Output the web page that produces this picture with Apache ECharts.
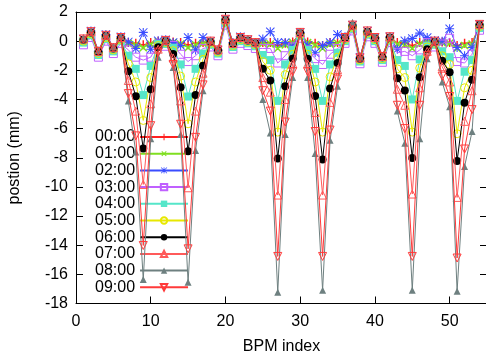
<!DOCTYPE html>
<html>
<head>
<meta charset="utf-8">
<script src="https://cdn.jsdelivr.net/npm/echarts@6/dist/echarts.min.js"></script>
<style>
html,body{margin:0;padding:0;background:#fff;}
#chart{width:486px;height:359px;}
</style>
</head>
<body>
<div id="chart"></div>
<script>
// BPM indices
var bpm = [1,2,3,4,5,6,7,8,9,10,11,12,13,14,15,16,17,18,19,20,21,22,23,24,25,26,27,28,29,30,31,32,33,34,35,36,37,38,39,40,41,42,43,44,45,46,47,48,49,50,51,52,53,54];

var seriesNames = ["00:00","01:00","02:00","03:00","04:00","05:00","06:00","07:00","08:00","09:00"];

var pos0000 = [0.1,0.6,-0.75,0.35,-0.5,0.2, -0.1,-0.15,-0.25,-0.1,0.0, 0.0, -0.05,-0.1,-0.25,-0.15,-0.1, -0.05,-0.65,1.45,-0.2,0.2,0.05,-0.15, -0.1,-0.1,-0.3,-0.15,-0.05, 0.55, -0.05,-0.15,-0.3,-0.1,-0.1, 0.2,1.05,-1.2,0.65,0.2,-1.1,0.25, -0.1,-0.15,-0.3,-0.1,0.0, -0.05, -0.05,-0.1,-0.3,-0.15,-0.1, 1.1];
var pos0100 = [0.05,0.55,-0.8,0.3,-0.55,0.15, -0.15,-0.25,-0.45,-0.2,-0.05, -0.05, -0.1,-0.2,-0.45,-0.25,-0.15, -0.1,-0.7,1.4,-0.25,0.15,0.0,-0.2, -0.15,-0.2,-0.5,-0.25,-0.1, 0.5, -0.1,-0.25,-0.5,-0.2,-0.15, 0.15,1.0,-1.25,0.6,0.15,-1.15,0.2, -0.2,-0.25,-0.5,-0.2,-0.05, -0.1, -0.1,-0.15,-0.5,-0.3,-0.2, 1.05];
var pos0200 = [0.15,0.7,-0.7,0.45,-0.45,0.3, -0.05,-0.5,0.6,-0.55,0.02, 0.1, -0.1,-0.3,0.25,-0.6,0.25, 0.0,-0.6,1.5,-0.1,0.3,0.1,-0.1, 0.15,0.65,-0.1,-0.1,-0.35, 0.6, -0.3,-0.8,-0.3,-0.1,0.45, 0.3,1.1,-1.1,0.7,0.25,-1.05,0.3, -0.55,0.02,0.18,0.55,0.25, 0.05, 0.0,0.85,-0.44,-1.0,-0.44, 1.15];
var pos0300 = [-0.25,0.25,-1.1,0.0,-0.85,-0.15, -0.6,-1.1,-1.3,-1.1,-0.2, -0.35, -0.3,-0.9,-1.4,-1.0,-0.5, -0.4,-1.0,1.1,-0.55,-0.15,-0.3,-0.5, -0.5,-0.5,-1.5,-1.0,-0.4, 0.2, -0.6,-1.2,-1.6,-0.9,-0.5, -0.15,0.7,-1.55,0.3,-0.15,-1.45,-0.1, -0.8,-0.7,-1.0,-0.6,-0.1, -0.4, -0.2,0.2,-1.4,-1.5,-0.9, 0.75];
var pos0400 = [-0.1,0.4,-0.95,0.15,-0.7,0.0, -1.0,-1.9,-3.7,-1.7,-0.2, -0.2, -0.45,-1.6,-3.8,-1.9,-0.85, -0.25,-0.85,1.25,-0.4,0.0,-0.15,-0.35, -0.95,-1.3,-4.1,-1.6,-0.6, 0.35, -0.6,-1.9,-4.1,-1.6,-0.8, 0.0,0.85,-1.4,0.45,0.0,-1.3,0.05, -1.3,-1.7,-4.0,-1.25,-0.3, -0.25, -0.7,-1.1,-4.1,-2.1,-1.3, 0.9];
var pos0500 = [0.0,0.5,-0.85,0.25,-0.6,0.1, -1.55,-2.8,-5.44,-2.5,-0.3, -0.1, -0.65,-2.4,-5.67,-2.8,-1.25, -0.15,-0.75,1.35,-0.3,0.1,-0.05,-0.25, -1.4,-2.0,-6.24,-2.3,-0.9, 0.45, -0.9,-2.8,-6.24,-2.45,-1.1, 0.1,0.95,-1.3,0.55,0.1,-1.2,0.15, -1.9,-2.5,-6.24,-1.85,-0.4, -0.15, -1.0,-1.6,-6.35,-3.2,-2.0, 1.0];
var pos0600 = [0.1,0.6,-0.75,0.35,-0.5,0.2, -2.07,-3.78,-7.37,-3.3,-0.42, 0.0, -0.89,-3.17,-7.56,-3.69,-1.69, -0.05,-0.65,1.45,-0.2,0.2,0.05,-0.15, -1.9,-2.7,-8.05,-3.1,-1.19, 0.55, -1.2,-3.77,-8.12,-3.25,-1.5, 0.2,1.05,-1.2,0.65,0.2,-1.1,0.25, -2.55,-3.39,-8.01,-2.48,-0.55, -0.05, -1.34,-2.14,-8.22,-4.23,-2.64, 1.1];
var pos0700 = [0.15,0.65,-0.7,0.4,-0.45,0.25, -2.7,-4.8,-9.83,-4.3,-0.55, 0.05, -1.15,-4.1,-10.06,-4.8,-2.2, 0.0,-0.6,1.5,-0.15,0.25,0.1,-0.1, -2.5,-3.5,-10.56,-4.0,-1.55, 0.6, -1.55,-4.9,-10.56,-4.2,-1.95, 0.25,1.1,-1.15,0.7,0.25,-1.05,0.3, -3.3,-4.4,-10.49,-3.2,-0.7, 0.0, -1.75,-2.8,-10.72,-5.5,-3.4, 1.15];
var pos0800 = [0.2,0.7,-0.65,0.45,-0.4,0.3, -4.1,-7.6,-16.36,-6.7,-1.1, 0.1, -1.8,-6.4,-16.55,-7.5,-3.4, 0.05,-0.55,1.55,-0.1,0.3,0.15,-0.05, -4.0,-6.3,-17.23,-6.4,-2.5, 0.65, -2.5,-7.7,-17.09,-6.8,-3.1, 0.3,1.3,-1.1,0.75,0.3,-1.0,0.35, -4.8,-7.0,-17.09,-6.7,-1.2, 0.05, -2.8,-4.5,-17.16,-8.6,-6.2, 1.2];
var pos0900 = [0.15,0.65,-0.7,0.4,-0.45,0.25, -3.6,-6.5,-14.02,-5.8,-0.75, 0.05, -1.6,-5.7,-14.25,-6.6,-3.0, 0.0,-0.6,1.5,-0.15,0.25,0.1,-0.1, -3.4,-4.8,-14.77,-5.55,-2.1, 0.6, -2.1,-6.2,-14.77,-6.1,-2.6, 0.25,1.1,-1.15,0.7,0.25,-1.05,0.3, -4.4,-6.0,-14.77,-4.4,-1.0, 0.0, -2.4,-3.8,-14.88,-7.4,-4.7, 1.15];

var xTicks = [0,10,20,30,40,50];
var yTicks = [2,0,-2,-4,-6,-8,-10,-12,-14,-16,-18];

var allValues = [pos0000,pos0100,pos0200,pos0300,pos0400,pos0500,pos0600,pos0700,pos0800,pos0900];

var PLUS = 'path://M4.2,0H5.8V4.2H10V5.8H5.8V10H4.2V5.8H0V4.2H4.2Z';
var STAR = 'path://M4.4,0H5.6V4.4H10V5.6H5.6V10H4.4V5.6H0V4.4H4.4Z M0.8,0L10,9.2L9.2,10L0,0.8Z M9.2,0L10,0.8L0.8,10L0,9.2Z';

var styles = [
  {c:'#ff2020', sym:PLUS, fill:true, rot:0, size:9},
  {c:'#7fdf20', sym:PLUS, fill:true, rot:45, size:10},
  {c:'#3a4dff', sym:STAR, fill:true, rot:0, size:9},
  {c:'#c060ff', sym:'rect', fill:false, rot:0, size:8},
  {c:'#55e6c9', sym:'rect', fill:true, rot:0, size:8},
  {c:'#e8e800', sym:'circle', fill:false, rot:0, size:8},
  {c:'#000000', sym:'circle', fill:true, rot:0, size:8},
  {c:'#ff5a5a', sym:'triangle', fill:false, rot:0, size:8},
  {c:'#6e8080', sym:'triangle', fill:true, rot:0, size:7},
  {c:'#ff3a3a', sym:'triangle', fill:false, rot:180, size:8}
];

var FONT = "'Liberation Sans', Arial, sans-serif";

var series = seriesNames.map(function(name, i){
  var st = styles[i];
  var vals = allValues[i];
  return {
    name: name,
    type: 'line',
    data: bpm.map(function(x, k){ return [x, vals[k]]; }),
    symbol: st.sym,
    symbolRotate: st.rot,
    symbolSize: st.size,
    showAllSymbol: true,
    lineStyle: {color: st.c, width: 1},
    itemStyle: st.fill ? {color: st.c, borderWidth: 0} : {color: 'rgba(255,255,255,0)', borderColor: st.c, borderWidth: 1},
    emphasis: {disabled: true},
    animation: false,
    z: 2 + i
  };
});

var chart = echarts.init(document.getElementById('chart'), null, {renderer: 'canvas'});
chart.setOption({
  backgroundColor: '#ffffff',
  animation: false,
  textStyle: {fontFamily: FONT},
  grid: {left: 76, width: 411, top: 12, height: 291.5, containLabel: false, outerBoundsMode: 'none'},
  xAxis: [{
    type: 'value', min: 0, max: 55, interval: 10,
    name: 'BPM index', nameLocation: 'middle', nameGap: 35,
    nameTextStyle: {fontSize: 16, color: '#000', fontFamily: FONT},
    axisLine: {show: true, onZero: false, lineStyle: {color: '#000', width: 1}},
    axisTick: {show: true, inside: true, length: 7, lineStyle: {color: '#000', width: 1}},
    axisLabel: {fontSize: 16, color: '#000', margin: 10, fontFamily: FONT,
      formatter: function(v){ return xTicks.indexOf(v) >= 0 ? String(v) : ''; }},
    splitLine: {show: false}
  },{
    type: 'value', position: 'top', min: 0, max: 55, interval: 10,
    axisLine: {show: true, onZero: false, lineStyle: {color: '#000', width: 1}},
    axisTick: {show: true, inside: true, length: 7, lineStyle: {color: '#000', width: 1}},
    axisLabel: {show: false}, splitLine: {show: false}
  }],
  yAxis: [{
    type: 'value', min: -18, max: 2, interval: 2,
    name: 'postion (mm)', nameLocation: 'middle', nameGap: 53,
    nameTextStyle: {fontSize: 16, color: '#000', fontFamily: FONT},
    axisLine: {show: true, onZero: false, lineStyle: {color: '#000', width: 1}},
    axisTick: {show: true, inside: true, length: 7, lineStyle: {color: '#000', width: 1}},
    axisLabel: {fontSize: 16, color: '#000', margin: 8, fontFamily: FONT,
      formatter: function(v){ return yTicks.indexOf(v) >= 0 ? String(v) : ''; }},
    splitLine: {show: false}
  },{
    type: 'value', position: 'right', min: -18, max: 2, interval: 2,
    axisLine: {show: true, onZero: false, lineStyle: {color: '#000', width: 1}},
    axisTick: {show: true, inside: true, length: 7, lineStyle: {color: '#000', width: 1}},
    axisLabel: {show: false}, splitLine: {show: false}
  }],
  legend: {
    show: true, orient: 'vertical', align: 'right',
    left: 95, top: 129, padding: 0,
    itemWidth: 48, itemHeight: 8, itemGap: 0.7,
    textStyle: {fontSize: 16, color: '#000', fontFamily: FONT, lineHeight: 16},
    selectedMode: false,
    data: seriesNames
  },
  series: series
});
</script>
</body>
</html>
